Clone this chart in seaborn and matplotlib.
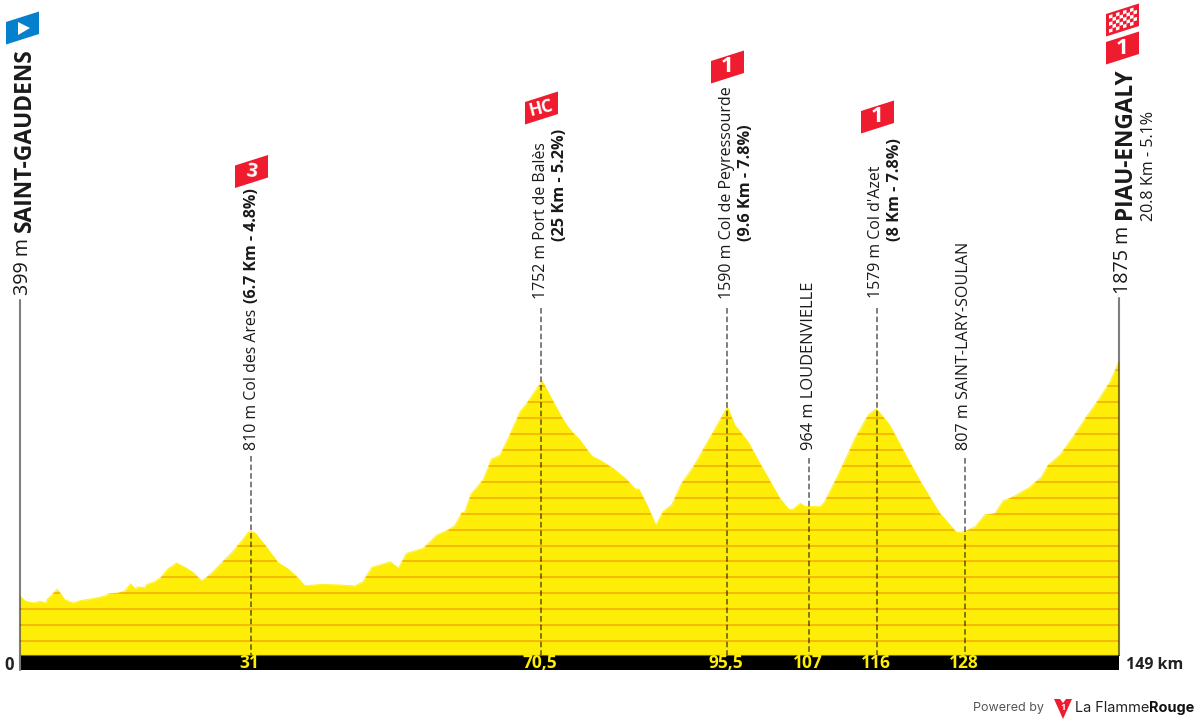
"""
Stage profile: Saint-Gaudens to Piau-Engaly, 149 km
"""

import numpy as np
import pandas as pd
import matplotlib
matplotlib.use('Agg')
import matplotlib.pyplot as plt
import seaborn as sns
from matplotlib.patches import Polygon
from matplotlib.transforms import Affine2D

# ============================================================================
# DATA
# ============================================================================

km = [0, 0.7, 1.6, 2.1, 2.7, 3.5, 3.7, 4.3, 5.0, 5.4, 6.1, 7.2, 8.1, 10.2, 11.5, 12.0,
      13.3, 14.2, 15.0, 15.6, 16.0, 16.9, 17.2, 18.3, 19.1, 20.0, 21.2, 22.6, 23.5,
      24.6, 25.3, 26.4, 27.6, 28.7, 29.8, 30.9, 31.3, 31.9, 33.2, 35.0, 36.4, 37.5,
      38.6, 41.1, 43.4, 45.4, 46.5, 47.7, 48.8, 50.2, 51.3, 52.4, 54.7, 56.5, 58.1,
      59.0, 59.9, 60.3, 61.2, 62.8, 63.9, 65.1, 66.4, 67.8, 68.7, 70.1, 70.8, 72.3,
      73.4, 74.1, 75.0, 75.9, 77.5, 78.6, 80.4, 82.3, 83.4, 83.9, 85.0, 86.2, 87.2,
      88.4, 89.7, 91.3, 93.1, 94.9, 95.9, 96.9, 98.7, 100.3, 103.0, 104.2, 104.8,
      105.8, 106.4, 108.5, 109.1, 110.7, 112.5, 113.2, 115.0, 116.1, 117.9, 120.2,
      122.2, 124.7, 127.0, 128.1, 129.5, 130.8, 132.2, 133.3, 134.7, 136.9, 138.5,
      139.4, 141.0, 142.8, 144.6, 146.2, 147.8, 149]
elevation = [399, 371, 360, 360, 369, 358, 381, 408, 444, 423, 377, 358, 372, 388, 402, 416,
             421, 433, 479, 448, 459, 454, 475, 492, 519, 570, 609, 576, 548,
             498, 519, 565, 624, 674, 733, 800, 810, 796, 722, 611, 570, 523,
             467, 475, 471, 465, 492, 582, 597, 617, 576, 670, 702, 785, 817,
             848, 925, 931, 1047, 1131, 1261, 1288, 1413, 1560, 1612, 1707, 1752, 1622,
             1528, 1476, 1424, 1382, 1281, 1256, 1204, 1131, 1074, 1074, 974, 848, 931,
             978, 1110, 1214, 1361, 1507, 1590, 1476, 1371, 1235, 1016, 947, 947,
             984, 964, 963, 994, 1141, 1319, 1392, 1539, 1579, 1476, 1277,
             1110, 921, 800, 807, 837, 911, 921, 1000, 1026, 1085, 1151,
             1225, 1288, 1403, 1528, 1633, 1748, 1875]

marker_km = [31.3, 70.6, 95.9, 107.0, 116.2, 128.1]
marker_labels = ['31', '70,5', '95,5', '107', '116', '128']

# ============================================================================
# FIGURE SETUP
# ============================================================================

sns.set_theme(style='white')
plt.rcParams['font.family'] = ['Open Sans', 'DejaVu Sans']

YELLOW = '#FEEE07'
ORANGE = '#F5B400'
RED = '#EE1C2E'
BLUE = '#0580CC'

W, H = 1200, 725
X0, KM_PX = 20, 1099 / 149
Y0, M_PX = 660, 0.1592


def m_at(py):
    return (Y0 - py) / M_PX


fig = plt.figure(figsize=(W / 100, H / 100), dpi=100)
ax = fig.add_axes([0, 0, 1, 1])
ax.set_xlim(-X0 / KM_PX, (W - X0) / KM_PX)
ax.set_ylim(m_at(H), m_at(0))
ax.set_axis_off()

# pixel coordinates, origin top left, for labels and flags
px = Affine2D().scale(1, -1).translate(0, H)

# ============================================================================
# PROFILE
# ============================================================================

df = pd.DataFrame({'km': km, 'elevation': elevation})
base = m_at(655)

area = ax.fill_between(df['km'], base, df['elevation'], color=YELLOW, lw=0, zorder=1)
sns.lineplot(data=df, x='km', y='elevation', color=YELLOW, lw=0.6, estimator=None,
             sort=False, ax=ax, zorder=1)
ax.set_axis_off()

# orange height lines every 100 m, cut off at the profile edge
lines = ax.hlines(np.arange(119, 1900, 100), 0, 149, color=ORANGE, lw=1.25, zorder=2)
lines.set_clip_path(area.get_paths()[0], ax.transData)

# black distance band
ax.fill_between([0, 149], m_at(670), base, color='black', lw=0, zorder=3)
ax.plot([0, 149], [base, base], color='#6b6410', lw=0.8, zorder=3)

# markers
marker_tops = [456, 308, 308, 458, 308, 458]
for x, top, label in zip(marker_km, marker_tops, marker_labels):
    ax.plot([x, x], [m_at(top), base], color='black', alpha=0.5, lw=1.4,
            dashes=(2.9, 1.5), zorder=4)
    ax.text(x - 0.15, m_at(662.5), label, color=YELLOW, fontsize=12.5, fontweight='bold',
            ha='center', va='center', zorder=5)

# start and finish posts
ax.plot([0, 0], [m_at(300), base], color='black', alpha=0.5, lw=1.5, zorder=4)
ax.plot([149, 149], [m_at(298), base], color='black', alpha=0.5, lw=1.5, zorder=4)
ax.plot([0, 0], [base, m_at(670)], color='#777777', lw=1.5, zorder=4)

ax.text(9.5, 665, '0', transform=px, fontsize=12, fontweight='bold', color='#222222',
        ha='center', va='center')
ax.text(1125.5, 665, '149 km', transform=px, fontsize=11.5, fontweight='bold',
        color='#222222', ha='left', va='center')


# ============================================================================
# LABELS
# ============================================================================

def vtext(x, y, s, size=11.4, weight='normal'):
    ax.text(x, y, s, transform=px, rotation=90, ha='center', va='bottom',
            fontsize=size, fontweight=weight, color='#1a1a1a', zorder=6)


vtext(23, 295, '399 m', size=14.2)
vtext(25, 232, 'SAINT-GAUDENS', size=16.4, weight='bold')
vtext(1123, 294, '1875 m', size=14.2)
vtext(1125, 219, 'PIAU-ENGALY', size=16.3, weight='bold')
vtext(1149, 221, '20.8 Km - 5.1%', size=11.6)

vtext(252, 450, '810 m Col des Ares')
vtext(252, 303, '(6.7 Km - 4.8%)', size=11.5, weight='bold')
vtext(541, 299, '1752 m Port de Balès')
vtext(560, 241, '(25 Km - 5.2%)', size=11.7, weight='bold')
vtext(727, 299, '1590 m Col de Peyressourde', size=11.5)
vtext(746, 241, '(9.6 Km - 7.8%)', size=11.7, weight='bold')
vtext(809, 450, '964 m LOUDENVIELLE', size=11.8)
vtext(876, 298, "1579 m Col d'Azet")
vtext(895, 241, '(8 Km - 7.8%)', size=11.7, weight='bold')
vtext(964, 450, '807 m SAINT-LARY-SOULAN', size=11.6)


# ============================================================================
# FLAGS
# ============================================================================

def flag(cx, cy, color, label=None, rot=0, size=16):
    pts = [(cx - 16.5, cy + 16.5), (cx - 16.5, cy - 6), (cx + 16.5, cy - 16.5), (cx + 16.5, cy + 6)]
    ax.add_patch(Polygon(pts, closed=True, fc=color, ec='none', transform=px, zorder=6))
    if label:
        ax.text(cx, cy, label, transform=px, color='white', fontsize=size, fontweight='bold',
                ha='center', va='center', rotation=rot, zorder=7)


flag(22.5, 28, BLUE)
ax.add_patch(Polygon([(18, 22), (18, 35), (30, 28)], closed=True, fc='white', ec='none',
                     transform=px, zorder=7))
flag(251.5, 171.5, RED, '3', rot=-8, size=14)
flag(541.5, 108, RED, 'HC', rot=14, size=12.5)
flag(727.5, 67, RED, '1')
flag(877.5, 117, RED, '1')
flag(1122.5, 20, RED)
flag(1122.5, 48, RED, '1')

# checkered finish flag
for r in range(5):
    for c in range(8):
        if (r + c) % 2 == 0:
            x = 1109 + c * 3.5
            y = 16 + r * 3.5 - (x - 1122.5) * 10.5 / 33 - 5
            pts = [(x, y), (x + 3.5, y - 1.1), (x + 3.5, y + 2.4), (x, y + 3.5)]
            ax.add_patch(Polygon(pts, closed=True, fc='white', ec='none', transform=px, zorder=7))

# ============================================================================
# FOOTER
# ============================================================================

ax.text(973, 708, 'Powered by', transform=px, fontsize=9, color='#555555', ha='left',
        va='center', family='Inter')
ax.add_patch(Polygon([(1054, 699), (1060, 699), (1063, 703), (1066, 699), (1072, 699), (1063, 719)],
                     closed=True, fc=RED, ec='none', transform=px))
ax.text(1063, 707, '1', transform=px, fontsize=6.5, color='white', fontweight='bold',
        ha='center', va='center')
ax.text(1075, 708, 'La Flamme', transform=px, fontsize=10.4, color='#222222', ha='left',
        va='center', family='Inter')
ax.text(1149, 708, 'Rouge', transform=px, fontsize=10.4, color='#111111', fontweight='bold',
        ha='left', va='center', family='Inter')

plt.savefig('out.png', dpi=100)
